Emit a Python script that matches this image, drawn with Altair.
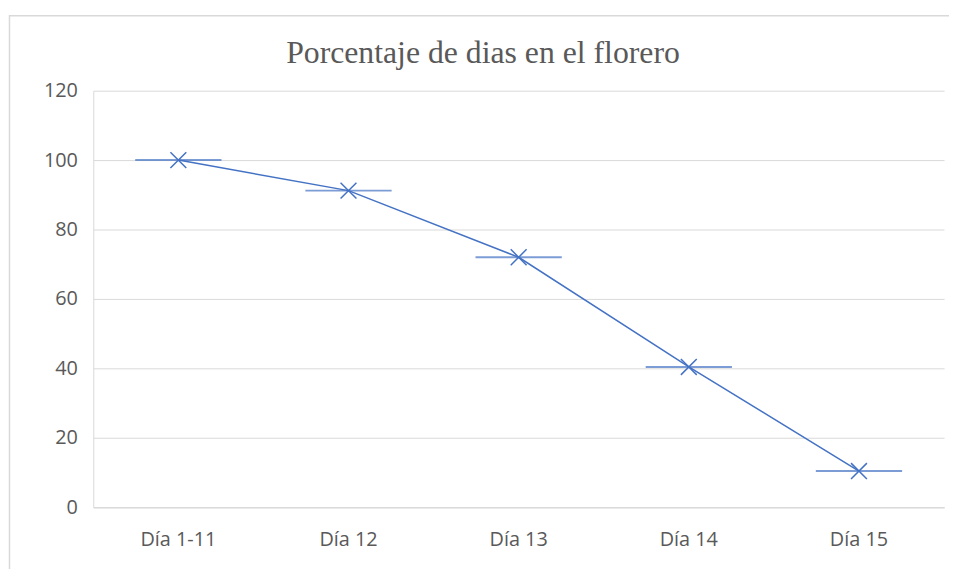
import altair as alt
import pandas as pd

categories = ["Día 1-11", "Día 12", "Día 13", "Día 14", "Día 15"]
values = [100, 91.2, 72, 40.4, 10.4]

df = pd.DataFrame({"cat": categories, "val": values})

W, H = 858, 420
blue = "#4472C4"
grey_txt = "#595959"

x = alt.X("cat:N", sort=categories, title=None,
          scale=alt.Scale(paddingInner=0, paddingOuter=0),
          axis=alt.Axis(labelAngle=0, ticks=False, domain=True, domainColor="#d9d9d9",
                        domainWidth=1.5, labelPadding=23, labelFont="Open Sans",
                        labelFontSize=20, labelColor=grey_txt, grid=False))
y = alt.Y("val:Q", title=None,
          scale=alt.Scale(domain=[0, 120], nice=False),
          axis=alt.Axis(values=[0, 20, 40, 60, 80, 100, 120], ticks=False, domain=True,
                        domainColor="#d9d9d9", gridColor="#d9d9d9", labelPadding=16,
                        labelFont="Open Sans", labelFontSize=20, labelColor=grey_txt))

base = alt.Chart(df)

line = base.mark_line(color=blue, strokeWidth=1.5).encode(x=x, y=y)
ticks = base.mark_tick(color=blue, thickness=2, size=87, orient="horizontal").encode(x=x, y=y)
pts = base.mark_point(shape="M-1,-1L1,1M-1,1L1,-1", size=256, filled=False,
                      color=blue, strokeWidth=1.5, opacity=1).encode(x=x, y=y)

border = alt.Chart(pd.DataFrame({"a": [0]})).mark_rect(
    fill=None, stroke="#d9d9d9", strokeWidth=1.5, clip=False
).encode(x=alt.value(-84.5), x2=alt.value(880), y=alt.value(-75.5), y2=alt.value(520))

title = alt.Chart(pd.DataFrame({"t": ["Porcentaje de dias en el florero"]})).mark_text(
    font="Liberation Serif", fontSize=32, color=grey_txt, align="center", baseline="alphabetic"
).encode(text="t:N", x=alt.value(393), y=alt.value(-28))

chart = alt.layer(border, line, ticks, pts, title).properties(
    width=W, height=H,
    autosize=alt.AutoSizeParams(type="none"),
    padding={"left": 86, "top": 81, "right": 5, "bottom": 60},
).configure_view(stroke=None)

chart.save("out.html", embed_options={"renderer": "svg", "actions": False})
